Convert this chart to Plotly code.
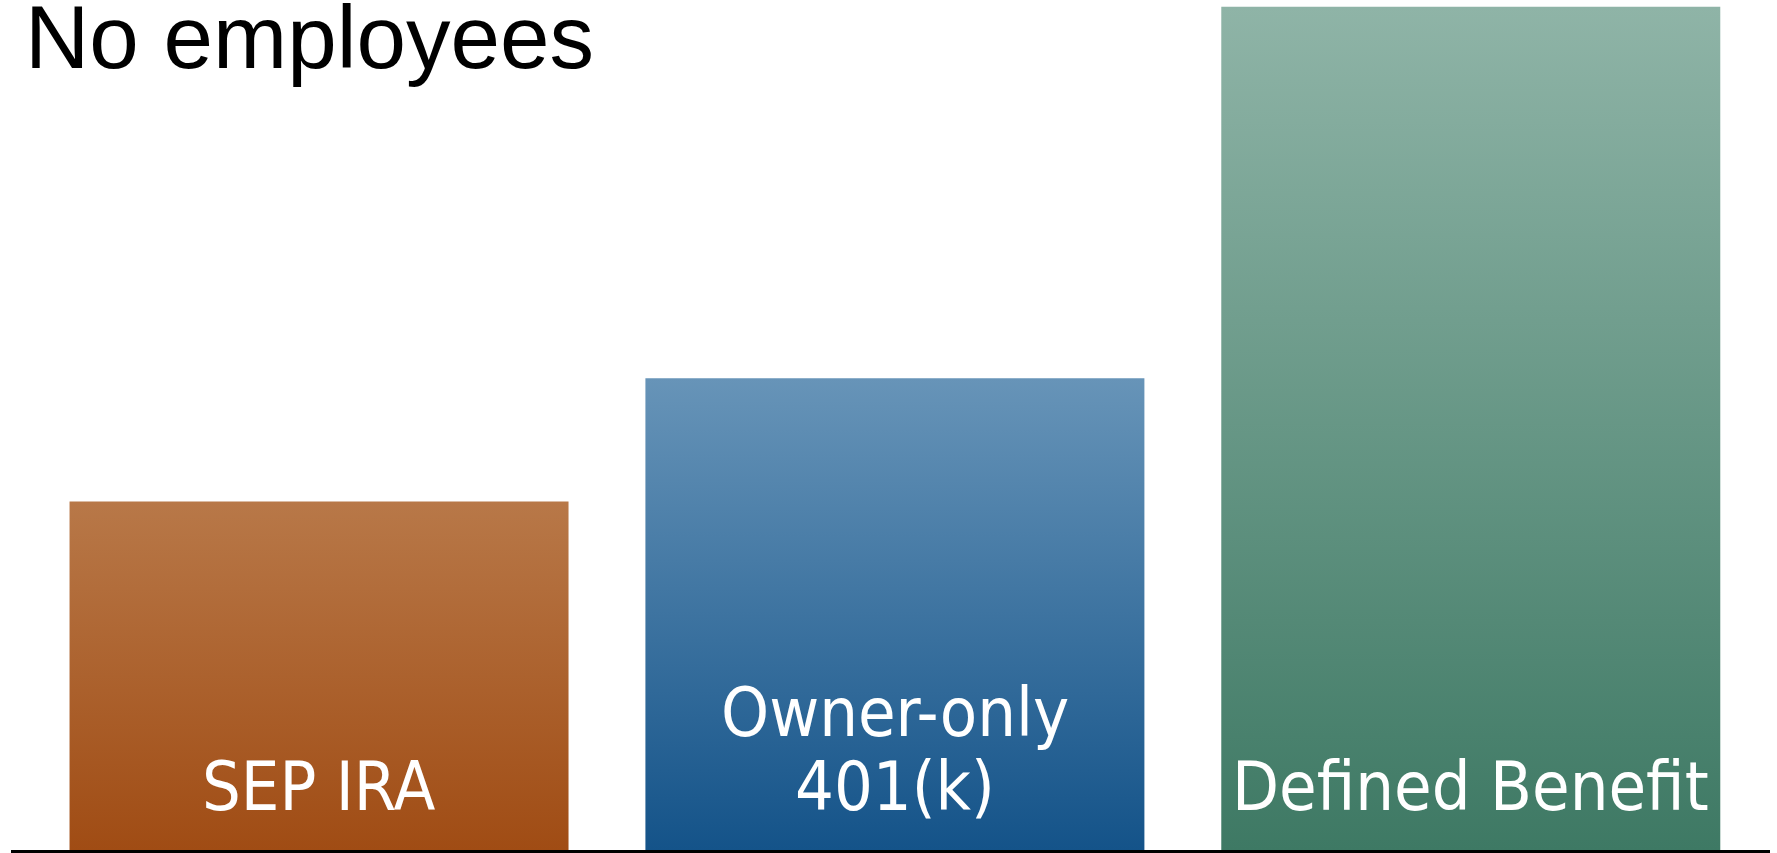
import plotly.graph_objects as go

# ---- data ----
categories = ["SEP IRA", "Owner-only 401(k)", "Defined Benefit"]
label_lines = [["SEP IRA"], ["Owner-only", "401(k)"], ["Defined Benefit"]]
values = [41.0, 55.5, 99.2]
top_colors = ["#B87848", "#6794B8", "#8FB4A7"]
bottom_colors = ["#A04C14", "#145389", "#3E7964"]
title_text = "No employees"

BAR_WIDTH = 0.8665
LABEL_FONT = dict(family="DejaVu Sans Condensed, DejaVu Sans, sans-serif", size=68, color="white")
LINE_STEP = 74  # px between stacked label lines

fig = go.Figure()

for i, (v, ct, cb) in enumerate(zip(values, top_colors, bottom_colors)):
    x0, x1 = i - BAR_WIDTH / 2, i + BAR_WIDTH / 2
    fig.add_trace(go.Scatter(
        x=[x0, x1, x1, x0, x0],
        y=[0, 0, v, v, 0],
        mode="lines",
        line=dict(width=0, color=cb),
        fill="toself",
        fillgradient=dict(type="vertical", colorscale=[[0, cb], [1, ct]]),
        hoverinfo="skip",
        showlegend=False,
        name=categories[i],
    ))

annotations = []
for i, lines in enumerate(label_lines):
    n = len(lines)
    for j, line in enumerate(lines):
        annotations.append(dict(
            x=i, y=0, xref="x", yref="y",
            text=line, showarrow=False,
            xanchor="center", yanchor="bottom",
            yshift=22 + (n - 1 - j) * LINE_STEP,
            font=LABEL_FONT,
        ))

annotations.append(dict(
    x=0, y=1, xref="paper", yref="paper",
    text=title_text, showarrow=False,
    xanchor="left", yanchor="top",
    xshift=12, yshift=15,
    font=dict(family="Liberation Sans, Arial, sans-serif", size=89, color="black"),
))

fig.update_layout(
    width=1777, height=853,
    margin=dict(l=11, r=7, t=0, b=3),
    paper_bgcolor="white", plot_bgcolor="white",
    annotations=annotations,
    showlegend=False,
    xaxis=dict(
        range=[-0.5349, 2.5196],
        showline=True, linecolor="black", linewidth=3,
        showgrid=False, zeroline=False, showticklabels=False, ticks="",
        fixedrange=True,
    ),
    yaxis=dict(
        range=[0, 100],
        visible=False, showgrid=False, zeroline=False,
        fixedrange=True,
    ),
)

fig.write_html(
    "out.html",
    config={"displayModeBar": False},
    post_script="document.body.style.margin='0';",
)
